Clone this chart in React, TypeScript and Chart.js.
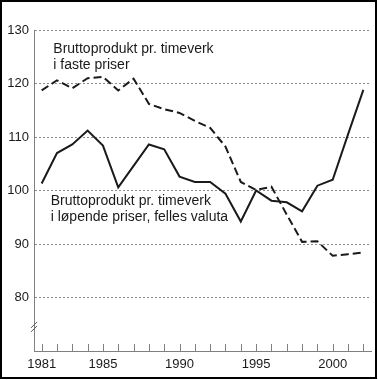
import React, { useEffect, useRef } from "react";
import { Chart, registerables } from "chart.js";

Chart.register(...registerables);

const years = ["1981","1982","1983","1984","1985","1986","1987","1988","1989","1990","1991","1992","1993","1994","1995","1996","1997","1998","1999","2000","2001","2002"];
const shownYears = ["1981", "1985", "1990", "1995", "2000"];
const fastePriser = [118.7,120.6,119.1,121.0,121.25,118.7,120.9,116.2,115.2,114.5,113.0,111.7,108.2,101.6,100.1,100.7,95.5,90.4,90.5,87.8,88.1,88.4];
const lopendePriser = [101.3,107.0,108.6,111.2,108.4,100.6,104.6,108.6,107.7,102.6,101.6,101.6,99.4,94.2,100.0,98.1,97.8,96.1,100.9,102.0,110.5,118.8];
const labelFaste = ["Bruttoprodukt pr. timeverk", "i faste priser"];
const labelLopende = ["Bruttoprodukt pr. timeverk", "i løpende priser, felles valuta"];
const yMin = 70;
const yMax = 130;

const FONT = "Arial, 'Liberation Sans', Helvetica, sans-serif";

const decorPlugin = {
  id: "decor",
  afterDraw(chart: any) {
    const { ctx, chartArea, scales } = chart;
    const x = scales.x;
    const y = scales.y;
    ctx.save();
    // inward tick marks on x axis
    ctx.strokeStyle = "#808080";
    ctx.lineWidth = 1;
    for (let i = 0; i < years.length; i++) {
      const px = Math.round(x.getPixelForValue(i)) + 0.5;
      ctx.beginPath();
      ctx.moveTo(px, chartArea.bottom - 7);
      ctx.lineTo(px, chartArea.bottom);
      ctx.stroke();
    }
    // axis break marks
    const by = y.getPixelForValue(74.5);
    const bx = chartArea.left;
    ctx.strokeStyle = "#555";
    ctx.lineWidth = 1;
    for (const d of [-2, 2]) {
      ctx.beginPath();
      ctx.moveTo(bx - 3, by + d + 3);
      ctx.lineTo(bx + 3, by + d - 3);
      ctx.stroke();
    }
    // annotations
    ctx.fillStyle = "#1a1a1a";
    ctx.font = "14px " + FONT;
    ctx.textBaseline = "middle";
    ctx.textAlign = "left";
    const ax1 = x.getPixelForValue(0.76);
    ctx.fillText(labelFaste[0], ax1, y.getPixelForValue(126.5));
    ctx.fillText(labelFaste[1], ax1, y.getPixelForValue(123.5));
    const ax2 = x.getPixelForValue(0.59);
    ctx.fillText(labelLopende[0], ax2, y.getPixelForValue(98.0));
    ctx.fillText(labelLopende[1], ax2, y.getPixelForValue(95.1));
    ctx.restore();
  },
};

export default function App() {
  const ref = useRef<HTMLCanvasElement | null>(null);
  useEffect(() => {
    if (!ref.current) return;
    const chart = new Chart(ref.current, {
      type: "line",
      data: {
        labels: years,
        datasets: [
          {
            label: "faste",
            data: fastePriser,
            borderColor: "#1a1a1a",
            borderWidth: 2,
            borderDash: [8, 4],
            pointRadius: 0,
            tension: 0,
            fill: false,
          },
          {
            label: "løpende",
            data: lopendePriser,
            borderColor: "#1a1a1a",
            borderWidth: 2,
            pointRadius: 0,
            tension: 0,
            fill: false,
          },
        ],
      },
      options: {
        responsive: false,
        animation: false,
        events: [],
        layout: { padding: { left: 0, top: 30, right: 7, bottom: 0 } },
        plugins: { legend: { display: false }, tooltip: { enabled: false } },
        scales: {
          x: {
            type: "category",
            offset: true,
            grid: { display: false, drawTicks: false },
            border: { display: true, color: "#808080", width: 1 },
            ticks: {
              autoSkip: false,
              maxRotation: 0,
              padding: 6,
              color: "#1a1a1a",
              font: { family: FONT, size: 13 },
              callback: (_v: any, i: number) => (shownYears.includes(years[i]) ? years[i] : ""),
            },
            afterFit: (s: any) => { s.height = 29; },
          },
          y: {
            min: yMin,
            max: yMax,
            ticks: {
              stepSize: 10,
              padding: 5,
              color: "#1a1a1a",
              font: { family: FONT, size: 13 },
              callback: (v: any) => (v === yMin ? "" : String(v)),
            },
            grid: {
              drawTicks: false,
              color: (c: any) => (c.tick && c.tick.value === yMin ? "rgba(0,0,0,0)" : "#8c8c8c"),
              lineWidth: 1,
            },
            border: { display: true, color: "#808080", width: 1, dash: [2, 2] },
            afterFit: (s: any) => { s.width = 34; },
          },
        },
      },
      plugins: [decorPlugin],
    });
    return () => chart.destroy();
  }, []);
  return (
    <div style={{ position: "absolute", left: 0, top: 0, width: 378, height: 380, background: "#fff" }}>
      <canvas ref={ref} width={378} height={380} style={{ position: "absolute", left: 0, top: 0 }} />
      <div style={{ position: "absolute", left: 0, top: 0, width: 377, height: 379, border: "2px solid #000", boxSizing: "border-box", pointerEvents: "none" }} />
    </div>
  );
}
